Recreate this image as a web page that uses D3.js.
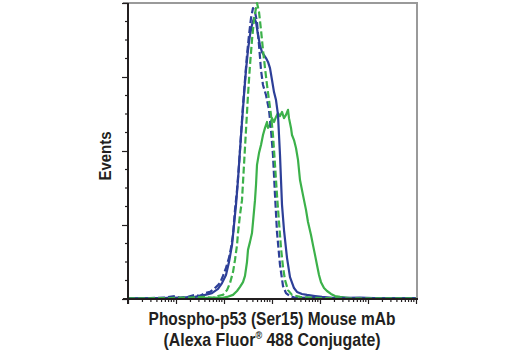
<!DOCTYPE html>
<html>
<head>
<meta charset="utf-8">
<script src="https://cdn.jsdelivr.net/npm/d3@7"></script>
<style>
  html, body { margin: 0; padding: 0; background: #fff; }
  svg { display: block; }
  .lbl { font-family: "Liberation Sans", Arial, Helvetica, sans-serif; font-weight: bold; fill: #231f20; }
</style>
</head>
<body>
<svg id="chart" width="520" height="350"></svg>
<script>
// Fluorescence intensity (log axis) and events as percent of the tallest peak.
const blueIsotypeX = [1, 2.873, 5.90, 9.53, 12.12, 17.78, 24.88, 31.62, 40.2, 51.1, 61.9, 75.0, 82.5, 95.3, 110, 127.1, 139.9, 154, 169.5, 186.6, 205.4, 226, 248.8, 273.8, 301.4, 331.8, 365.2, 402, 442.4, 487, 536, 590, 649.4, 749.9, 866, 953.2, 1049, 1155, 1271, 1468, 1695, 1957, 2371, 3162, 6190, 10000, 26100, 1e6];
const blueIsotypeY = [0.2, 0.3, 0.5, 1.0, 0.3, 0.7, 1.4, 1.0, 2.0, 2.4, 3.4, 4.7, 5.4, 7.8, 10.5, 13.9, 17.2, 21.6, 30.1, 36.8, 45.3, 55.4, 65.5, 74.0, 82.4, 89.2, 94.9, 98.3, 97.0, 93.6, 85.8, 77.4, 72.3, 68.9, 63.9, 57.1, 48.6, 35.1, 22.6, 11.5, 4.4, 2.0, 1.0, 0.3, 0.5, 0.3, 0.2, 0.2];

const blueAntibodyX = [1, 4.64, 12.12, 24.88, 40.2, 56.2, 75.0, 90.9, 110, 127.1, 146.8, 161.6, 177.8, 195.7, 215.4, 237.1, 261, 287.3, 316.2, 348.1, 383.1, 421.7, 464.2, 510.9, 562.3, 619, 681.3, 749.9, 825.4, 908.5, 1000, 1101, 1212, 1334, 1399, 1468, 1540, 1616, 1778, 2054, 2371, 2873, 3318, 4217, 5360, 7868, 11010, 20540, 68130, 177800, 1e6];
const blueAntibodyY = [0.2, 0.3, 0.5, 0.7, 1.4, 2.0, 3.4, 5.4, 8.1, 12.5, 18.2, 25.0, 31.8, 40.2, 50.3, 59.8, 68.9, 77.4, 84.1, 89.2, 92.6, 94.9, 93.6, 89.2, 85.8, 83.4, 82.4, 81.4, 80.1, 78.0, 74.0, 69.9, 67.2, 62.2, 55.4, 48.6, 40.2, 31.8, 23.3, 13.9, 7.4, 3.7, 2.4, 1.7, 1.4, 1.0, 0.7, 0.3, 0.5, 0.2, 0.2];

const greenIsotypeX = [1, 7.50, 19.57, 40.2, 59.0, 75.0, 95.3, 115.5, 133.4, 154, 169.5, 186.6, 195.7, 215.4, 237.1, 261, 287.3, 316.2, 348.1, 383.1, 421.7, 464.2, 487, 536, 590, 649.4, 715, 786.8, 866, 953.2, 1049, 1155, 1271, 1399, 1540, 1695, 1866, 2154, 2610, 3831, 10000, 68130, 1e6];
const greenIsotypeY = [0.2, 0.3, 0.5, 0.7, 0.3, 1.0, 1.4, 3.0, 5.4, 9.1, 13.2, 18.2, 22.3, 28.4, 33.4, 45.3, 57.1, 68.9, 79.1, 87.5, 94.3, 98.3, 100, 97.0, 90.9, 84.1, 78.0, 72.3, 67.2, 62.2, 55.4, 45.3, 35.1, 26.0, 17.2, 10.8, 6.4, 3.0, 1.4, 0.7, 0.3, 0.2, 0.2];

const greenAntibodyX = [1, 12.12, 31.62, 64.9, 90.9, 115.5, 154, 186.6, 215.4, 248.8, 273.8, 301.4, 316.2, 348.1, 383.1, 402, 442.4, 464.2, 487, 536, 590, 649.4, 715, 786.8, 825.4, 908.5, 1000, 1101, 1212, 1334, 1468, 1616, 1778, 1957, 2154, 2260, 2488, 2610, 2873, 3162, 3481, 3831, 4424, 5109, 5623, 6494, 7148, 7868, 8660, 9532, 10490, 12120, 13990, 16950, 20540, 26100, 42170, 110100, 1e6];
const greenAntibodyY = [0.2, 0.2, 0.3, 0.5, 0.3, 0.7, 1.4, 2.7, 4.1, 5.7, 7.8, 12.5, 16.6, 19.3, 22.3, 26.0, 33.4, 38.5, 45.3, 49.3, 52.0, 55.4, 57.8, 59.8, 57.8, 58.8, 61.1, 59.8, 61.5, 62.8, 61.8, 63.2, 61.1, 62.2, 63.9, 61.1, 57.8, 55.4, 53.7, 51.0, 47.0, 40.2, 35.1, 30.1, 26.0, 21.6, 18.2, 14.9, 11.5, 8.1, 5.7, 3.7, 2.7, 1.7, 1.0, 0.7, 0.3, 0.2, 0.2];

const xDomain = [1, 1e6];
const yDomain = [0, 100];
const yMajorTicks = [0, 25, 50, 75, 100];
const yMinorTicks = [6.25, 12.5, 18.75, 31.25, 37.5, 43.75, 56.25, 62.5, 68.75, 81.25, 87.5, 93.75];

const xTitle = ["Phospho-p53 (Ser15) Mouse mAb", "(Alexa Fluor", "®", " 488 Conjugate)"];
const yTitle = "Events";

const BLUE = "#2d3f98";
const GREEN = "#3cb14a";

const series = [
  { x: greenAntibodyX, y: greenAntibodyY, color: GREEN, dash: null },
  { x: blueAntibodyX, y: blueAntibodyY, color: BLUE, dash: null },
  { x: blueIsotypeX, y: blueIsotypeY, color: BLUE, dash: "7,3" },
  { x: greenIsotypeX, y: greenIsotypeY, color: GREEN, dash: "7,3" }
];

const svg = d3.select("#chart");
const m = { left: 128, right: 417, top: 3, bottom: 299 };

const x = d3.scaleLog().domain(xDomain).range([m.left, m.right - 1]);
const y = d3.scaleLinear().domain(yDomain).range([m.bottom, m.top]);

// frame: grey top and right edges
svg.append("line").attr("x1", m.left - 5).attr("x2", m.right).attr("y1", m.top).attr("y2", m.top)
  .attr("stroke", "#9a9a9a").attr("stroke-width", 2);
svg.append("line").attr("x1", m.right).attr("x2", m.right).attr("y1", m.top - 1).attr("y2", m.bottom)
  .attr("stroke", "#9a9a9a").attr("stroke-width", 2);

// curves
const line = d3.line().x(d => x(d[0])).y(d => y(d[1]));
const curves = svg.append("g").attr("fill", "none").attr("stroke-width", 2.2).attr("stroke-linejoin", "round");
series.forEach(s => {
  curves.append("path")
    .datum(d3.zip(s.x, s.y))
    .attr("d", line)
    .attr("stroke", s.color)
    .attr("stroke-dasharray", s.dash);
});

// y axis with major and minor ticks
const yAxis = svg.append("g").attr("transform", `translate(${m.left},0)`);
yAxis.call(d3.axisLeft(y).tickValues(yMajorTicks).tickSize(6).tickFormat(""));
yAxis.call(g => g.selectAll(".minor").data(yMinorTicks).join("line")
  .attr("class", "minor").attr("x1", -3).attr("x2", 0)
  .attr("y1", d => y(d)).attr("y2", d => y(d)));
yAxis.select(".domain").attr("d", `M0,${m.top}V${m.bottom + 5}`).attr("stroke", "#231f20").attr("stroke-width", 2);
yAxis.selectAll("line").attr("stroke", "#231f20").attr("stroke-width", 1.2);

// x axis: log decades with minor ticks
const decades = x.ticks().filter(v => Math.abs(Math.log10(v) - Math.round(Math.log10(v))) < 1e-9);
const minors = x.ticks().filter(v => !decades.includes(v));
const xAxis = svg.append("g").attr("transform", `translate(0,${m.bottom})`);
xAxis.call(d3.axisBottom(x).tickValues(decades).tickSize(5).tickFormat(""));
xAxis.call(g => g.selectAll(".minor").data(minors).join("line")
  .attr("class", "minor").attr("y1", 0).attr("y2", 3)
  .attr("x1", d => x(d)).attr("x2", d => x(d)));
xAxis.select(".domain").attr("d", `M${m.left - 5},0H${m.right + 1}`).attr("stroke", "#231f20").attr("stroke-width", 2);
xAxis.selectAll("line").attr("stroke", "#231f20").attr("stroke-width", 1.2);

// titles (horizontally condensed bold sans)
svg.append("g").attr("transform", "translate(111,156) rotate(-90) scale(0.88,1)")
  .append("text").attr("class", "lbl")
  .attr("text-anchor", "middle").attr("font-size", 17).text(yTitle);

svg.append("g").attr("transform", "translate(272,325) scale(0.885,1)")
  .append("text").attr("class", "lbl")
  .attr("text-anchor", "middle").attr("font-size", 17.5)
  .text(xTitle[0]);
const t2 = svg.append("g").attr("transform", "translate(272,345.5) scale(0.91,1)")
  .append("text").attr("class", "lbl")
  .attr("text-anchor", "middle").attr("font-size", 17.5);
t2.append("tspan").text(xTitle[1]);
t2.append("tspan").attr("font-size", 10).attr("dy", -7).text(xTitle[2]);
t2.append("tspan").attr("dy", 7).text(xTitle[3]);
</script>
</body>
</html>
